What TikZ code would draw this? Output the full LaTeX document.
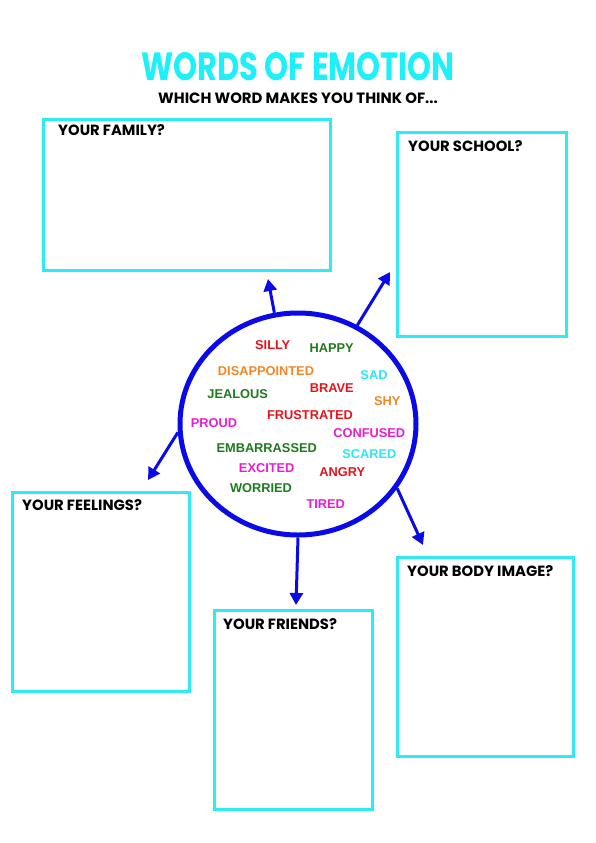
\documentclass[tikz,border=0pt]{standalone}
\usepackage{fontspec}
\setmainfont{Liberation Sans}
\newfontfamily\headfont{Poppins}
\usetikzlibrary{positioning,arrows.meta,shapes.geometric}
\definecolor{titlec}{HTML}{1CF0FA}
\definecolor{boxc}{HTML}{2CEBF2}
\definecolor{linkc}{HTML}{0A0AE8}
\definecolor{redw}{HTML}{E2141E}
\definecolor{greenw}{HTML}{1E7A1E}
\definecolor{orangew}{HTML}{F0862A}
\definecolor{cyanw}{HTML}{2EE6F2}
\definecolor{pinkw}{HTML}{E61ED2}
\tikzset{
  qbox/.style={draw=boxc, line width=3pt, anchor=north west, inner sep=0pt},
  qlbl/.style={font=\headfont\bfseries\fontsize{14.8}{16}\selectfont, anchor=north west, inner sep=0pt},
  link/.style={-{Triangle[length=12pt, width=13pt]}, draw=linkc, line width=3pt},
  word/.style={font=\bfseries\fontsize{12.8}{14}\selectfont, inner sep=0pt},
}

\begin{document}
\begin{tikzpicture}[x=1pt, y=-1pt]
  \fill[white] (0,0) rectangle (596,843);
  \useasboundingbox (0,0) rectangle (596,843);
  % heading
  \node[text=titlec, font=\headfont\bfseries, inner sep=0pt] (title) at (298,67)
       {\resizebox{313pt}{28pt}{WORDS OF EMOTION}};
  \node[font=\headfont\bfseries\fontsize{14.9}{17}\selectfont, inner sep=0pt] (sub) at (298,98)
       {WHICH WORD MAKES YOU THINK OF...};
  % question boxes
  \node[qbox, minimum width=287pt, minimum height=151pt] (family) at (42,118) {};
  \node[qbox, minimum width=169pt, minimum height=204pt] (school) at (396,131) {};
  \node[qbox, minimum width=177pt, minimum height=199pt] (feelings) at (11,491) {};
  \node[qbox, minimum width=158pt, minimum height=199pt] (friends) at (213,609) {};
  \node[qbox, minimum width=176pt, minimum height=199pt] (body) at (396,556) {};
  \node[qlbl] at (58,124) {YOUR FAMILY?};
  \node[qlbl] at (408,140) {YOUR SCHOOL?};
  \node[qlbl] at (22,499) {YOUR FEELINGS?};
  \node[qlbl] at (223,618) {YOUR FRIENDS?};
  \node[qlbl] at (407,565) {YOUR BODY IMAGE?};
  % word circle
  \node[draw=linkc, line width=5pt, ellipse, minimum width=236pt, minimum height=222pt] (emo) at (298,424) {};
  \node[word, text=redw] at (272.7,345) {SILLY};
  \node[word, text=greenw] at (331.7,348.3) {HAPPY};
  \node[word, text=orangew] at (266,371) {DISAPPOINTED};
  \node[word, text=cyanw] at (374,375) {SAD};
  \node[word, text=redw] at (331.7,388.3) {BRAVE};
  \node[word, text=greenw] at (237.7,394.3) {JEALOUS};
  \node[word, text=orangew] at (387.3,400.7) {SHY};
  \node[word, text=redw] at (310,415) {FRUSTRATED};
  \node[word, text=pinkw] at (214,423.3) {PROUD};
  \node[word, text=pinkw] at (369.3,432.7) {CONFUSED};
  \node[word, text=greenw] at (266.7,447.7) {EMBARRASSED};
  \node[word, text=cyanw] at (369.3,454) {SCARED};
  \node[word, text=pinkw] at (266.7,467.7) {EXCITED};
  \node[word, text=redw] at (342.3,472.3) {ANGRY};
  \node[word, text=greenw] at (261,487.7) {WORRIED};
  \node[word, text=pinkw] at (325.7,503.7) {TIRED};
  % arrows out of the circle
  \coordinate (famtip) at (268,279);
  \coordinate (schtip) at (390,272);
  \coordinate (feeltip) at (148,480);
  \coordinate (frtip) at (296,605);
  \coordinate (bodytip) at (423,545);
  \draw[link] (emo.102) -- (famtip);
  \draw[link] (emo.59) -- (schtip);
  \draw[link] (emo.184) -- (feeltip);
  \draw[link] (emo.270) -- (frtip);
  \draw[link] (emo.327) -- (bodytip);
\end{tikzpicture}
\end{document}
